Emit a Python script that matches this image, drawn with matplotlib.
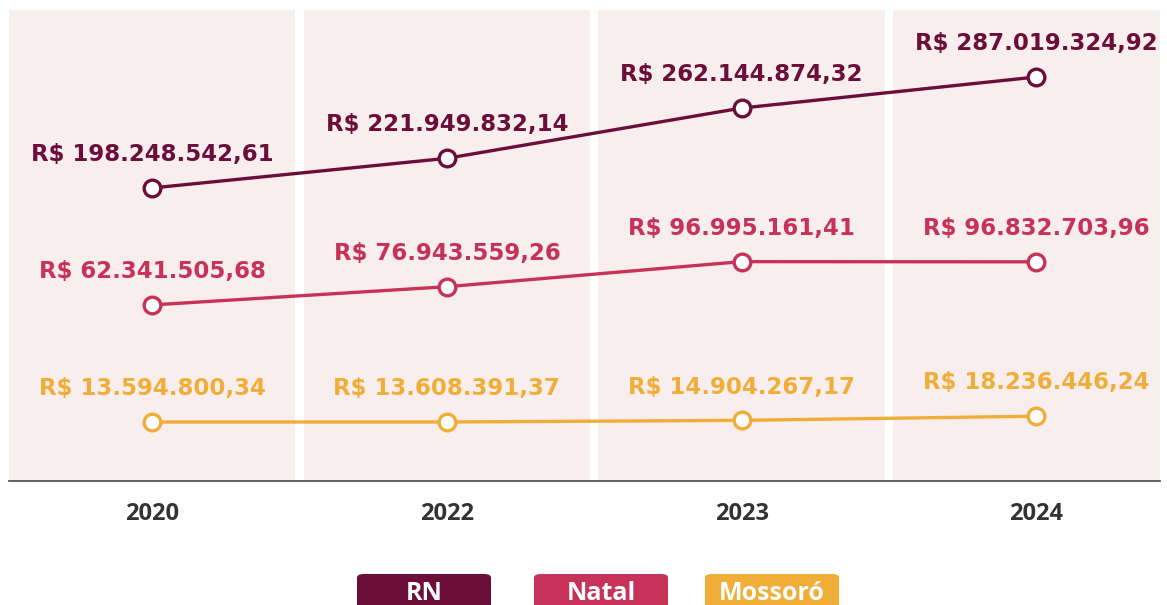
import matplotlib.pyplot as plt
from matplotlib.patches import FancyBboxPatch

# Chart data
years = ['2020', '2022', '2023', '2024']
rn = [198248542.61, 221949832.14, 262144874.32, 287019324.92]
natal = [62341505.68, 76943559.26, 96995161.41, 96832703.96]
mossoro = [13594800.34, 13608391.37, 14904267.17, 18236446.24]
series_names = ['RN', 'Natal', 'Mossoró']

colors = ['#6c0e3a', '#c73259', '#f0ae38']
band_color = '#f8eeee'
# each series sits on its own y range (same span, different offsets)
y_limits = [(-36.2e6, 340.6e6), (-78.5e6, 298.3e6), (-33.6e6, 343.2e6)]


def fmt_brl(v):
    s = f'{v:,.2f}'
    s = s.replace(',', 'X').replace('.', ',').replace('X', '.')
    return 'R$ ' + s


W, H = 1167, 605
fig = plt.figure(figsize=(W / 100, H / 100), dpi=100)
left, right, top, bottom = 9, 1160, 10, 481
ax = fig.add_axes([left / W, 1 - bottom / H, (right - left) / W, (bottom - top) / H])

x = list(range(len(years)))
ax.set_xlim(-0.486, 3.42)

for i in x:
    ax.axvspan(i - 0.486, i + 0.486, color=band_color, lw=0, zorder=0)

axes = [ax, ax.twinx(), ax.twinx()]
for a, vals, c, lim in zip(axes, [rn, natal, mossoro], colors, y_limits):
    a.set_ylim(*lim)
    a.plot(x, vals, color=c, lw=2.4, marker='o', ms=12, mfc='white',
           mec=c, mew=2.4, zorder=3, clip_on=False)
    for xi, v in zip(x, vals):
        a.annotate(fmt_brl(v), (xi, v), xytext=(0, 24), textcoords='offset points',
                   ha='center', va='center', color=c, fontsize=16.5,
                   fontweight='heavy', family='DejaVu Sans')
    a.set_yticks([])
    for sp in a.spines.values():
        sp.set_visible(False)

ax.spines['bottom'].set_visible(True)
ax.spines['bottom'].set_color('#555555')
ax.spines['bottom'].set_linewidth(1.3)
ax.set_xticks(x)
ax.set_xticklabels(years, fontsize=17, fontweight='bold', color='#333333',
                   family='Open Sans')
ax.tick_params(axis='x', length=0, pad=15)

# legend boxes at the bottom
box_centers = [424, 601, 772]
for name, c, cx in zip(series_names, colors, box_centers):
    bw, bh, btop = 134, 45, 574
    patch = FancyBboxPatch(((cx - bw / 2) / W, 1 - (btop + bh) / H), bw / W, bh / H,
                           boxstyle='round,pad=0,rounding_size=0.006',
                           transform=fig.transFigure, fc=c, ec='none')
    fig.patches.append(patch)
    fig.text(cx / W, 1 - 594 / H, name, ha='center', va='center', color='white',
             fontsize=18, fontweight='bold', family='Open Sans')

fig.savefig('out.png', dpi=100)
